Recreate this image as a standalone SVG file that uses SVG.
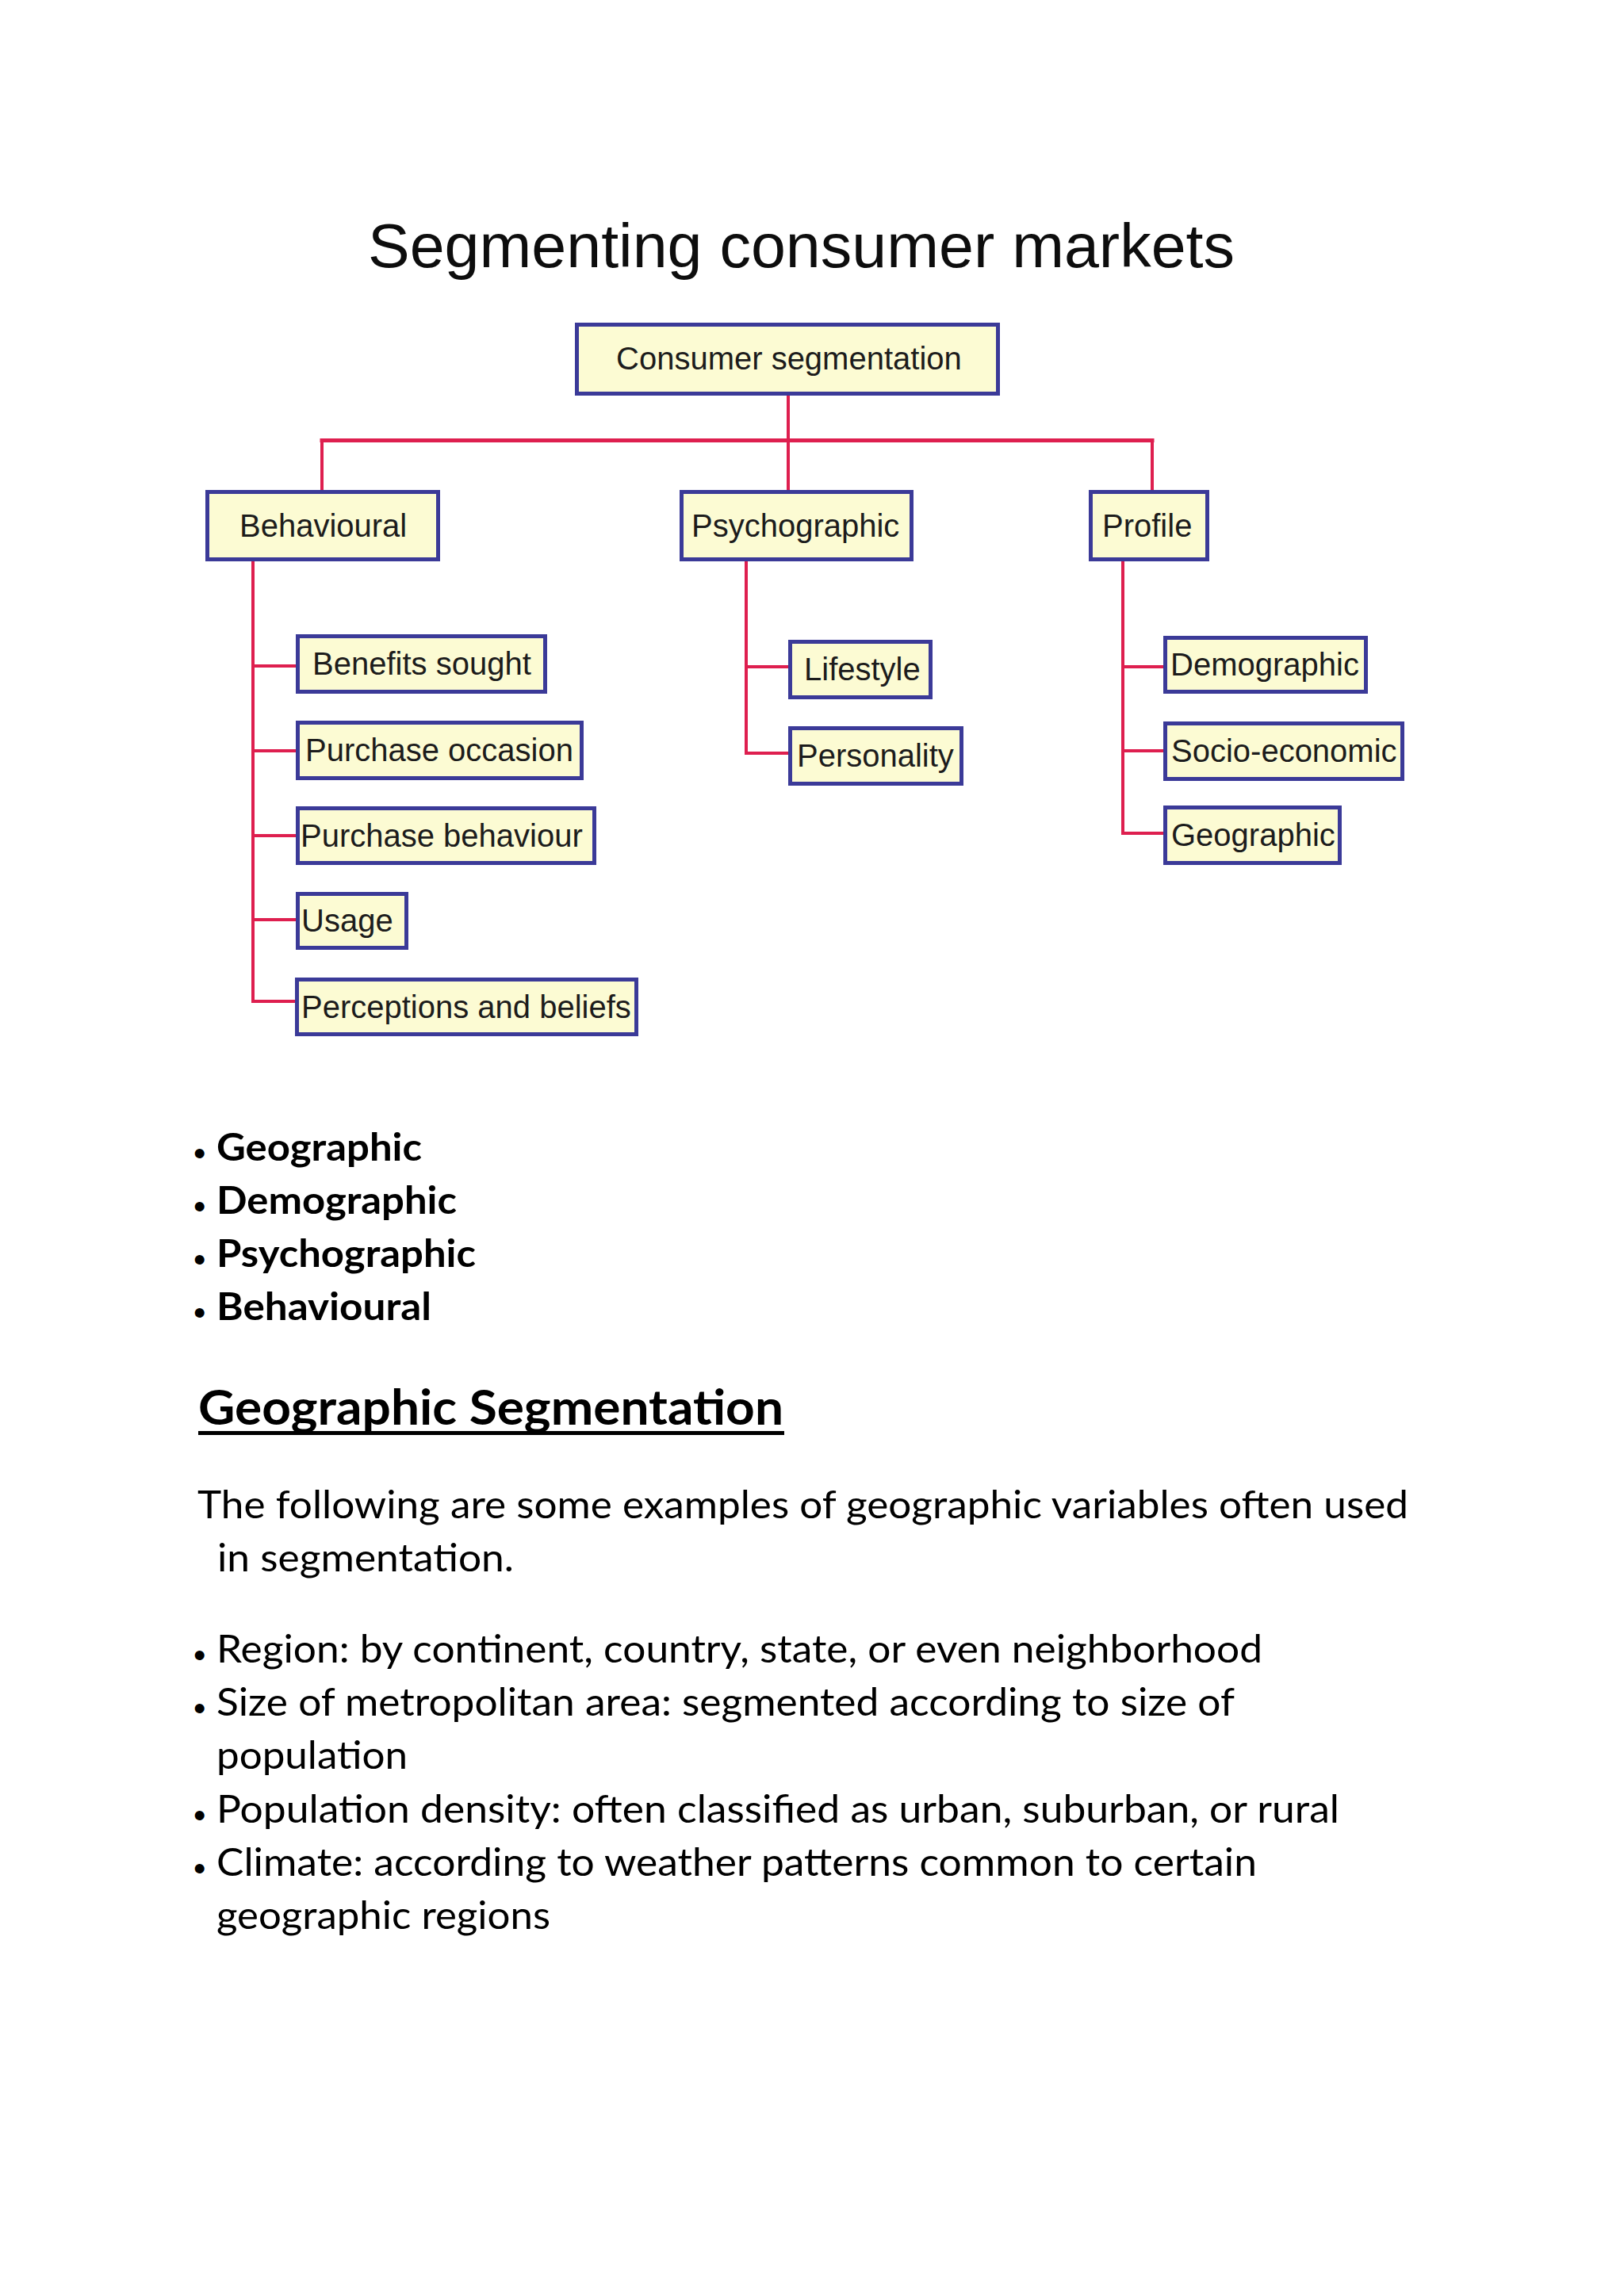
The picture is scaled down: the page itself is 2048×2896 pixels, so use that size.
<svg xmlns="http://www.w3.org/2000/svg" width="2048" height="2896" viewBox="0 0 2048 2896">
  <style>
    .box { fill: #fcfbd3; stroke: #3b3a98; stroke-width: 5; }
    .lbl { font-family: "Liberation Sans", Arial, sans-serif; font-size: 40px; fill: #1c1c1c; }
    .conn { stroke: #de1f4f; stroke-width: 4; fill: none; stroke-linecap: square; }
    .title { font-family: "Liberation Sans", Arial, sans-serif; font-size: 77px; fill: #0d0d0d; }
    .body { font-family: Lato, "Open Sans", sans-serif; font-size: 49px; fill: #000; }
    .bold { font-family: Lato, "Open Sans", sans-serif; font-size: 47px; font-weight: bold; fill: #000; }
    .head { font-family: Lato, "Open Sans", sans-serif; font-size: 62px; font-weight: bold; fill: #000; }
    .bul { font-family: "Liberation Sans", Arial, sans-serif; font-size: 44px; fill: #000; }
  </style>
  <rect x="0" y="0" width="2048" height="2896" fill="#ffffff"/>

  <text id="title" class="title" x="464" y="337" textLength="1093" lengthAdjust="spacingAndGlyphs">Segmenting consumer markets</text>

  <g id="connectors">
    <line class="conn" x1="994" y1="499" x2="994" y2="618"/>
    <line class="conn" x1="406" y1="555.5" x2="1453" y2="555.5" style="stroke-width:5"/>
    <line class="conn" x1="406" y1="555" x2="406" y2="618"/>
    <line class="conn" x1="1453" y1="555" x2="1453" y2="618"/>
    <polyline class="conn" points="319,708 319,1263 372,1263"/>
    <line class="conn" x1="319" y1="840" x2="373" y2="840"/>
    <line class="conn" x1="319" y1="947" x2="373" y2="947"/>
    <line class="conn" x1="319" y1="1054" x2="373" y2="1054"/>
    <line class="conn" x1="319" y1="1160" x2="373" y2="1160"/>
    <polyline class="conn" points="941,708 941,950 994,950"/>
    <line class="conn" x1="941" y1="841" x2="994" y2="841"/>
    <polyline class="conn" points="1416,708 1416,1051 1467,1051"/>
    <line class="conn" x1="1416" y1="841" x2="1467" y2="841"/>
    <line class="conn" x1="1416" y1="947" x2="1467" y2="947"/>
  </g>

  <g id="consumer-segmentation">
    <rect class="box" x="727.5" y="409.5" width="531" height="87"/>
    <text class="lbl" x="777" y="466">Consumer segmentation</text>
  </g>
  <g id="behavioural">
    <rect class="box" x="261.5" y="620.5" width="291" height="85"/>
    <text class="lbl" x="302" y="677">Behavioural</text>
  </g>
  <g id="psychographic">
    <rect class="box" x="859.5" y="620.5" width="290" height="85"/>
    <text class="lbl" x="872" y="677">Psychographic</text>
  </g>
  <g id="profile">
    <rect class="box" x="1375.5" y="620.5" width="147" height="85"/>
    <text class="lbl" x="1390" y="677">Profile</text>
  </g>

  <g id="benefits-sought">
    <rect class="box" x="375.5" y="802.5" width="312" height="70"/>
    <text class="lbl" x="394" y="851">Benefits sought</text>
  </g>
  <g id="purchase-occasion">
    <rect class="box" x="375.5" y="911.5" width="358" height="70"/>
    <text class="lbl" x="385" y="960">Purchase occasion</text>
  </g>
  <g id="purchase-behaviour">
    <rect class="box" x="375.5" y="1019.5" width="374" height="69"/>
    <text class="lbl" x="379" y="1068">Purchase behaviour</text>
  </g>
  <g id="usage">
    <rect class="box" x="375.5" y="1127.5" width="137" height="68"/>
    <text class="lbl" x="380" y="1175">Usage</text>
  </g>
  <g id="perceptions-and-beliefs">
    <rect class="box" x="374.5" y="1235.5" width="428" height="69"/>
    <text class="lbl" x="380" y="1284">Perceptions and beliefs</text>
  </g>

  <g id="lifestyle">
    <rect class="box" x="996.5" y="809.5" width="177" height="70"/>
    <text class="lbl" x="1014" y="858">Lifestyle</text>
  </g>
  <g id="personality">
    <rect class="box" x="996.5" y="918.5" width="216" height="70"/>
    <text class="lbl" x="1005" y="967">Personality</text>
  </g>

  <g id="demographic">
    <rect class="box" x="1469.5" y="804.5" width="253" height="68"/>
    <text class="lbl" x="1476" y="852">Demographic</text>
  </g>
  <g id="socio-economic">
    <rect class="box" x="1469.5" y="912.5" width="299" height="70"/>
    <text class="lbl" x="1477" y="961">Socio-economic</text>
  </g>
  <g id="geographic">
    <rect class="box" x="1469.5" y="1018.5" width="220" height="70"/>
    <text class="lbl" x="1477" y="1067">Geographic</text>
  </g>

  <g id="type-list">
    <text class="bul" x="244" y="1470">•</text>
    <text class="bold" x="273" y="1464" textLength="259" lengthAdjust="spacingAndGlyphs">Geographic</text>
    <text class="bul" x="244" y="1537">•</text>
    <text class="bold" x="273" y="1531" textLength="303" lengthAdjust="spacingAndGlyphs">Demographic</text>
    <text class="bul" x="244" y="1604">•</text>
    <text class="bold" x="273" y="1598" textLength="327" lengthAdjust="spacingAndGlyphs">Psychographic</text>
    <text class="bul" x="244" y="1671">•</text>
    <text class="bold" x="273" y="1665" textLength="271" lengthAdjust="spacingAndGlyphs">Behavioural</text>
  </g>

  <g id="heading">
    <text class="head" x="250" y="1797" textLength="738" lengthAdjust="spacingAndGlyphs">Geographic Segmentation</text>
    <rect x="250" y="1805" width="739" height="5" fill="#000"/>
  </g>

  <g id="body">
    <text class="body" x="249" y="1915" textLength="1527" lengthAdjust="spacingAndGlyphs">The following are some examples of geographic variables often used</text>
    <text class="body" x="274" y="1982" textLength="374" lengthAdjust="spacingAndGlyphs">in segmentation.</text>
    <text class="bul" x="244" y="2103">•</text>
    <text class="body" x="273" y="2097" textLength="1319" lengthAdjust="spacingAndGlyphs">Region: by continent, country, state, or even neighborhood</text>
    <text class="bul" x="244" y="2170">•</text>
    <text class="body" x="273" y="2164" textLength="1284" lengthAdjust="spacingAndGlyphs">Size of metropolitan area: segmented according to size of</text>
    <text class="body" x="273" y="2231" textLength="241" lengthAdjust="spacingAndGlyphs">population</text>
    <text class="bul" x="244" y="2305">•</text>
    <text class="body" x="273" y="2299" textLength="1416" lengthAdjust="spacingAndGlyphs">Population density: often classified as urban, suburban, or rural</text>
    <text class="bul" x="244" y="2372">•</text>
    <text class="body" x="273" y="2366" textLength="1312" lengthAdjust="spacingAndGlyphs">Climate: according to weather patterns common to certain</text>
    <text class="body" x="273" y="2433" textLength="421" lengthAdjust="spacingAndGlyphs">geographic regions</text>
  </g>
</svg>
